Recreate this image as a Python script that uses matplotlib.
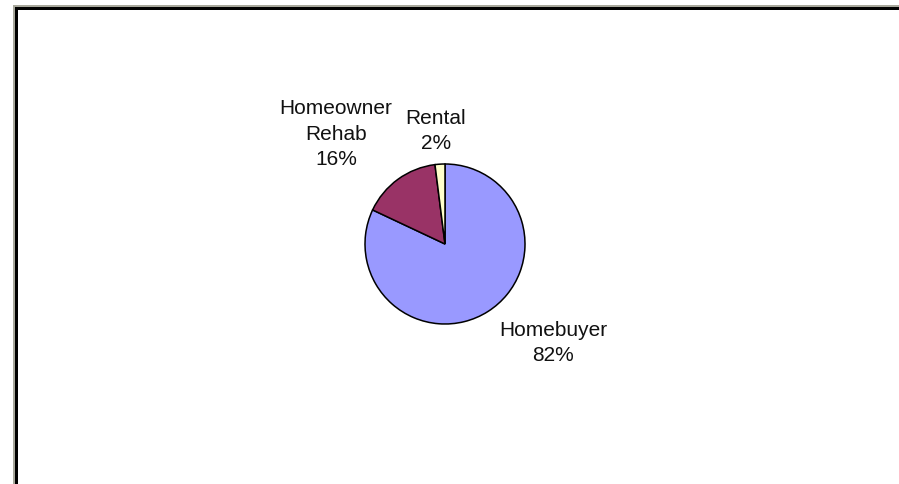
import matplotlib
matplotlib.use("Agg")
import matplotlib.pyplot as plt
from matplotlib.patches import Rectangle
import numpy as np

categories = ["Homebuyer", "Homeowner\nRehab", "Rental"]
values = [82, 16, 2]
colors = ["#9999FF", "#993366", "#FFFFCC"]

W, H = 899, 484
fig = plt.figure(figsize=(W / 100, H / 100), dpi=100)
ax = fig.add_axes([0, 0, 1, 1])
ax.set_xlim(0, W)
ax.set_ylim(0, H)
ax.set_aspect("equal")
ax.axis("off")

# borders (pixel layout)
gray = "#A8A89C"
ax.add_patch(Rectangle((12.7, 0), 2.0, H - 4.7, color=gray, lw=0))
ax.add_patch(Rectangle((12.7, H - 6.7), W, 2.0, color=gray, lw=0))
ax.add_patch(Rectangle((14.7, 0), 3.0, H - 6.7, color="black", lw=0))
ax.add_patch(Rectangle((14.7, H - 9.7), W, 3.0, color="black", lw=0))

cx, cy, r = 445, H - 244, 80
wedges, _ = ax.pie(values, colors=colors, startangle=90, counterclock=False,
                   center=(cx, cy), radius=r,
                   wedgeprops=dict(edgecolor="black", linewidth=1.1))
ax.set_xlim(0, W)
ax.set_ylim(0, H)

# label offsets from pie centre (pixels, layout)
offsets = [(108, -99), (-109, 110), (-9, 113)]
for cat, v, (dx, dy) in zip(categories, values, offsets):
    ax.text(cx + dx, cy + dy, f"{cat}\n{v}%", ha="center", va="center",
            fontsize=15.0, family="Liberation Sans", linespacing=1.44,
            color="#111111")

fig.savefig("out.png", dpi=100)
